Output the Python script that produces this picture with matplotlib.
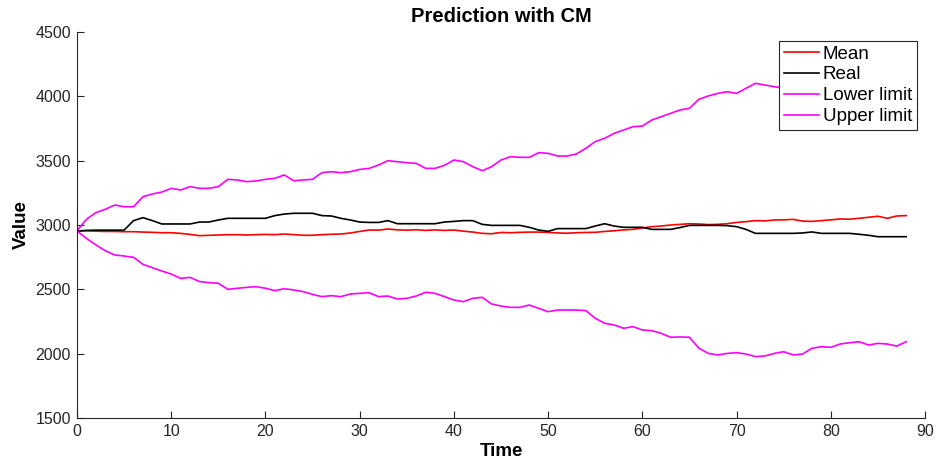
import matplotlib
matplotlib.use("Agg")
import matplotlib.pyplot as plt

# values, one sample per time unit (0..88)
time = list(range(89))

mean = [2953, 2955, 2952, 2950, 2950, 2948, 2948, 2945, 2943, 2940,
        2940, 2935, 2927, 2917, 2920, 2922, 2925, 2925, 2922, 2925,
        2927, 2925, 2930, 2925, 2920, 2920, 2925, 2928, 2930, 2938,
        2950, 2961, 2960, 2969, 2962, 2960, 2963, 2958, 2962, 2958,
        2961, 2952, 2945, 2935, 2932, 2942, 2940, 2943, 2945, 2945,
        2943, 2938, 2936, 2940, 2942, 2943, 2950, 2955, 2962, 2966,
        2977, 2987, 2992, 3000, 3005, 3010, 3008, 3003, 3005, 3010,
        3020, 3026, 3034, 3032, 3039, 3040, 3044, 3030, 3028, 3034,
        3040, 3047, 3045, 3052, 3060, 3068, 3052, 3070, 3073]

real = [2953, 2958, 2960, 2960, 2960, 2960, 3034, 3057, 3034, 3008,
        3008, 3008, 3008, 3023, 3023, 3039, 3052, 3052, 3052, 3052,
        3052, 3073, 3085, 3091, 3091, 3091, 3073, 3070, 3052, 3039,
        3023, 3020, 3020, 3034, 3010, 3010, 3010, 3010, 3010, 3023,
        3028, 3034, 3034, 3005, 2997, 2997, 2997, 2997, 2982, 2961,
        2951, 2972, 2972, 2972, 2972, 2992, 3010, 2992, 2982, 2982,
        2982, 2966, 2966, 2966, 2980, 2997, 2997, 2997, 2997, 2995,
        2987, 2966, 2935, 2935, 2935, 2935, 2935, 2938, 2946, 2935,
        2935, 2935, 2935, 2928, 2920, 2909, 2909, 2909, 2909]

lower = [2953, 2896, 2845, 2800, 2767, 2759, 2749, 2694, 2668, 2642,
         2619, 2585, 2593, 2560, 2552, 2547, 2500, 2508, 2515, 2521,
         2508, 2490, 2505, 2495, 2482, 2461, 2443, 2451, 2443, 2464,
         2469, 2474, 2443, 2448, 2425, 2430, 2448, 2477, 2469, 2443,
         2417, 2404, 2430, 2438, 2386, 2370, 2360, 2360, 2378, 2352,
         2326, 2339, 2339, 2339, 2335, 2275, 2236, 2223, 2197, 2210,
         2184, 2179, 2158, 2127, 2130, 2127, 2042, 2002, 1990, 2002,
         2008, 1997, 1977, 1982, 2002, 2015, 1990, 1997, 2042, 2054,
         2049, 2075, 2085, 2093, 2067, 2080, 2075, 2059, 2093]

upper = [2956, 3044, 3096, 3122, 3155, 3142, 3142, 3220, 3241, 3256,
         3285, 3272, 3298, 3285, 3285, 3298, 3355, 3350, 3337, 3342,
         3355, 3363, 3389, 3344, 3350, 3355, 3407, 3414, 3407, 3414,
         3432, 3440, 3466, 3500, 3492, 3484, 3479, 3440, 3440, 3464,
         3505, 3492, 3453, 3422, 3453, 3505, 3531, 3526, 3526, 3562,
         3557, 3536, 3536, 3552, 3596, 3648, 3674, 3712, 3738, 3764,
         3769, 3816, 3842, 3868, 3894, 3907, 3977, 4003, 4023, 4036,
         4023, 4062, 4101, 4088, 4075, 4065, 4098, 4063, 4014, 4014,
         4031, 4019, 4005, 4011, 4053, 4056, 4029, 4081, 4053]

plt.rcParams['font.family'] = ['Liberation Sans', 'DejaVu Sans']
axcol = '#262626'

fig = plt.figure(figsize=(9.38, 4.62), dpi=100)
ax = fig.add_axes([77 / 938, 1 - 418 / 462, 848 / 938, 386 / 462])

lw = 1.2
ax.plot(time, mean, color='#ff0000', lw=lw, label='Mean')
ax.plot(time, real, color='black', lw=lw, label='Real')
ax.plot(time, lower, color='#ff00ff', lw=lw, label='Lower limit')
ax.plot(time, upper, color='#ff00ff', lw=lw, label='Upper limit')

ax.set_xlim(0, 90)
ax.set_ylim(1500, 4500)
ax.set_xticks(range(0, 91, 10))
ax.set_yticks(range(1500, 4501, 500))

for s in ['top', 'right']:
    ax.spines[s].set_visible(False)
for s in ['left', 'bottom']:
    ax.spines[s].set_color(axcol)
    ax.spines[s].set_linewidth(0.8)
ax.tick_params(direction='in', length=5, width=0.8, colors=axcol,
               labelsize=11.5, pad=4.5)

ax.set_title('Prediction with CM', fontsize=14.5, fontweight='bold', pad=7)
ax.set_xlabel('Time', fontsize=13.5, fontweight='bold', labelpad=3)
ax.set_ylabel('Value', fontsize=13.5, fontweight='bold', labelpad=4)

leg = ax.legend(loc='upper right', bbox_to_anchor=(0.9906, 0.9774),
                borderaxespad=0, fancybox=False, fontsize=13.5,
                handlelength=1.9, handletextpad=0.2, labelspacing=0.2,
                borderpad=0.25, framealpha=1)
leg.get_frame().set_edgecolor(axcol)
leg.get_frame().set_linewidth(0.8)

fig.savefig('out.png', dpi=100)
